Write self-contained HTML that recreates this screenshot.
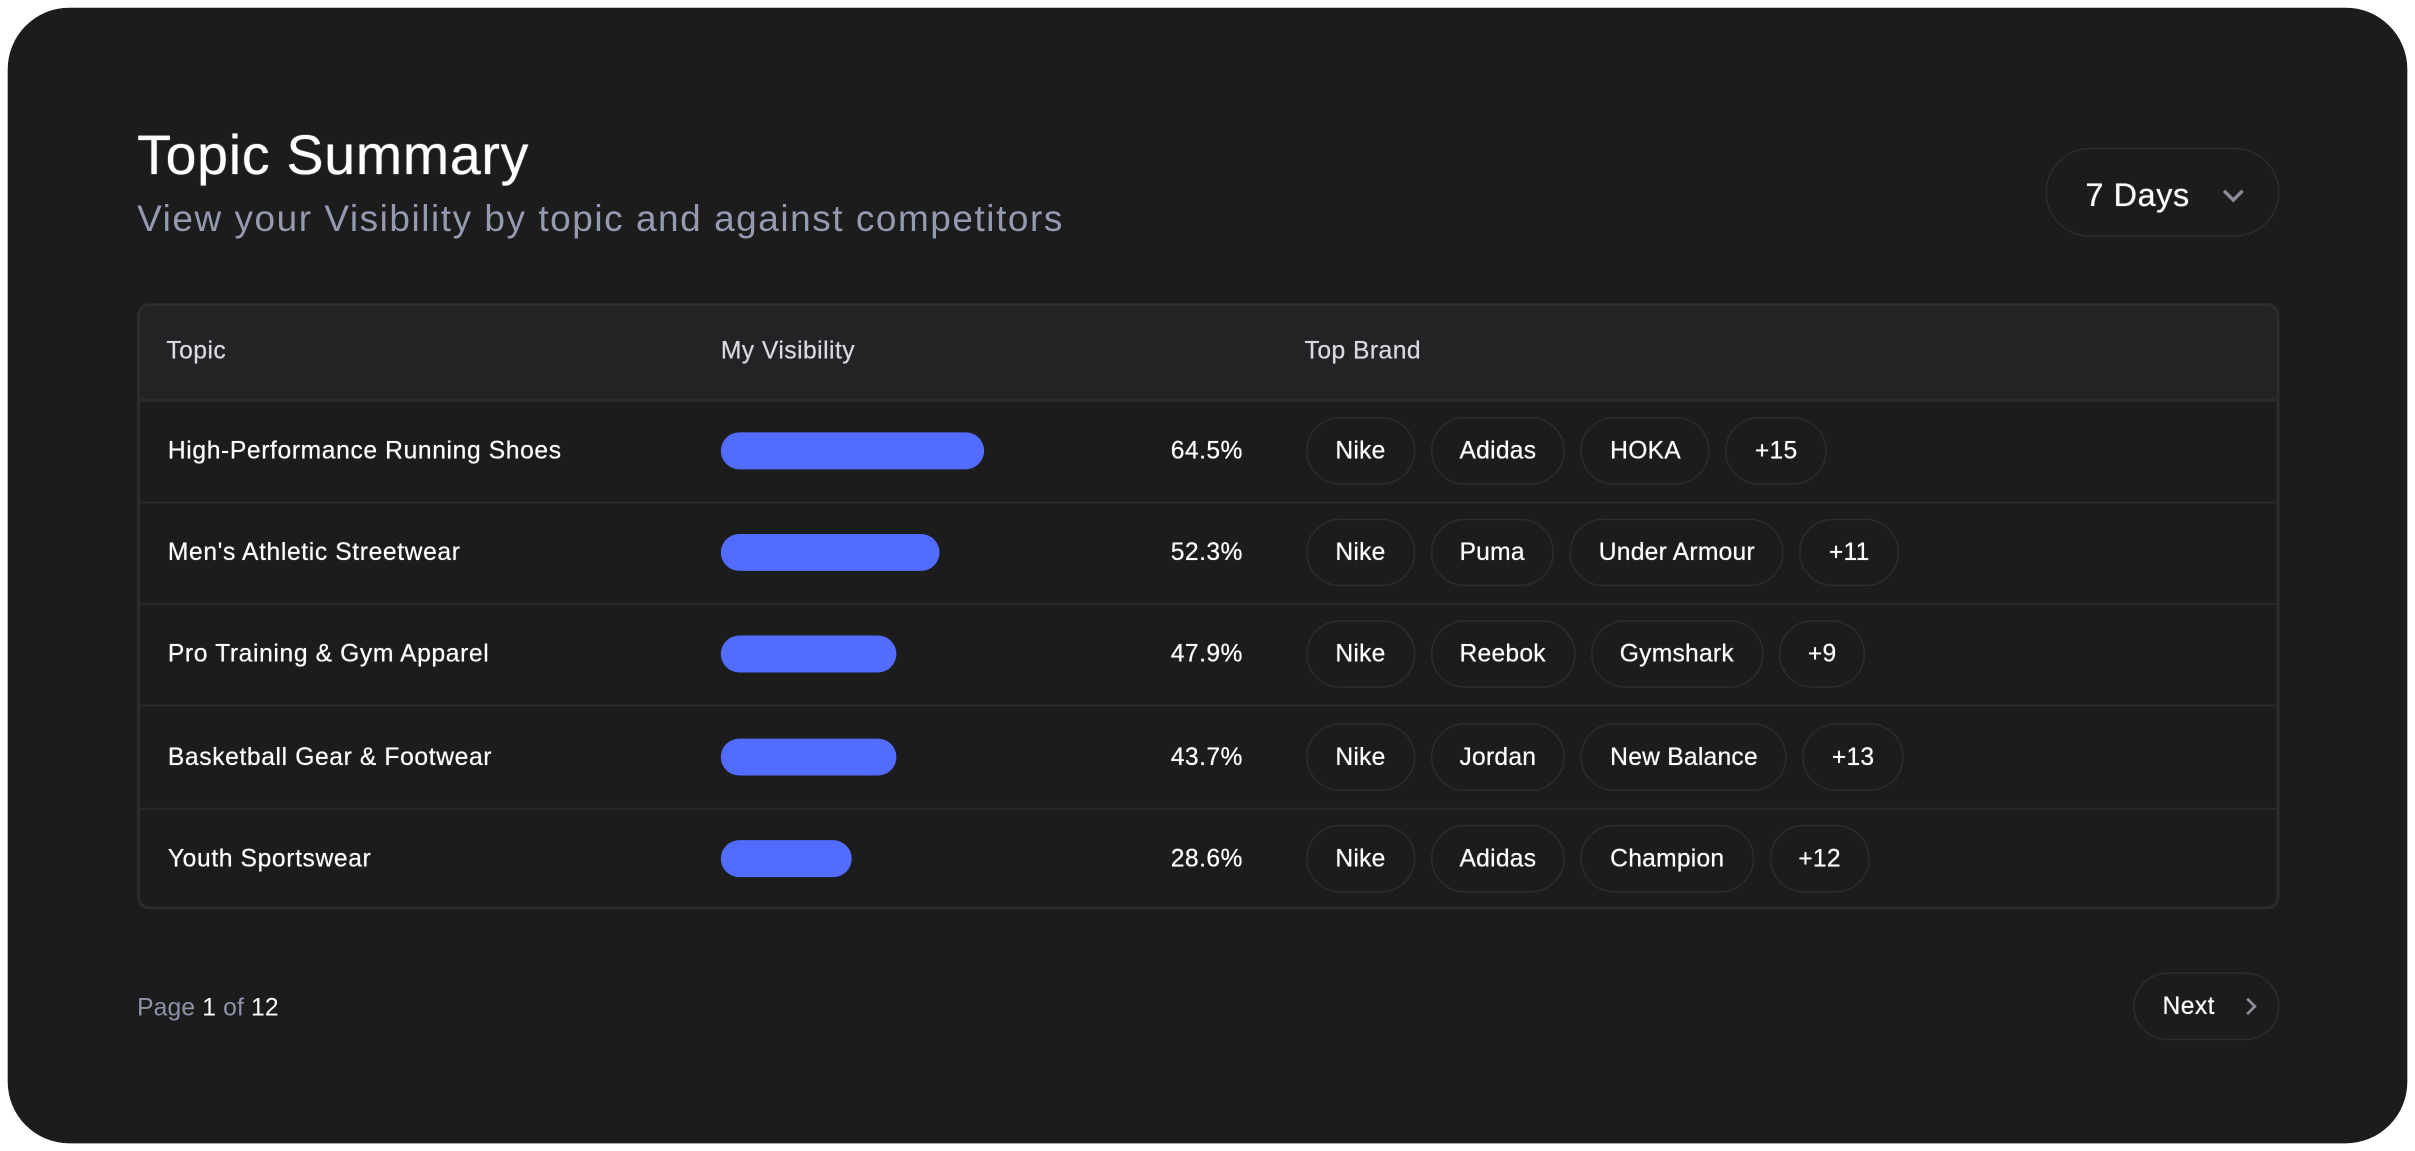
<!DOCTYPE html>
<html><head><meta charset="utf-8"><style>
html,body{margin:0;padding:0;background:#fff;width:2415px;height:1151px;overflow:hidden}
#w{position:absolute;left:0;top:0;width:1568px;height:748px;transform:scale(1.5402,1.5388);transform-origin:0 0;font-family:"Liberation Sans",sans-serif}
.card{position:absolute;left:5px;top:5px;width:1558px;height:738px;background:#1c1c1c;border-radius:40px}
.a{position:absolute;white-space:nowrap}
.t{left:89px;top:80px;font-size:36px;color:#fff;letter-spacing:0.5px;text-shadow:0 0 0.6px #fff}
.s{left:89px;top:129px;font-size:24px;color:#959ab0;letter-spacing:1px}
.dd{left:1328px;top:96px;width:152px;height:58px;border:1px solid #2c2c2e;border-radius:30px;box-sizing:border-box}
.tbl{left:89px;top:197px;width:1391px;height:394px;border:2px solid #2c2c2e;border-radius:8px;box-sizing:border-box;overflow:hidden}
.hd{position:absolute;left:0;top:0;right:0;height:60px;background:#232326;border-bottom:2px solid #2c2c2e}
.h{font-size:16px;color:#d8d9e3;top:21px;letter-spacing:0.3px;text-shadow:0 0 0.4px #d8d9e3}
.row{position:absolute;left:0;right:0;height:66px;border-bottom:1px solid #2a2a2a}
.tp{left:18px;top:25px;font-size:16px;color:#fff;letter-spacing:0.4px;text-shadow:0 0 0.4px #fff}
.bar{position:absolute;left:377px;top:21px;height:24px;border-radius:12px;background:#526cff}
.pc{left:628px;width:88px;text-align:right;top:25px;font-size:16px;color:#fff;letter-spacing:0.3px;text-shadow:0 0 0.4px #fff}
.chips{position:absolute;left:757px;top:11px;display:flex;gap:10px}
.chip{height:44px;padding:0 18px;border:1px solid #2c2c2e;border-radius:22px;box-sizing:border-box;color:#fff;font-size:16px;line-height:44px;letter-spacing:0.15px;text-shadow:0 0 0.4px #fff}
.pg{left:89px;top:647px;font-size:16px;color:#8e93a8;letter-spacing:0.1px}
.pg b{color:#fff;font-weight:normal}
.nx{left:1385px;top:632px;width:95px;height:44px;border:1px solid #2c2c2e;border-radius:22px;box-sizing:border-box}
</style></head><body><div id="w">
<div class="card"></div>
<div class="a t">Topic Summary</div>
<div class="a s">View your Visibility by topic and against competitors</div>
<div class="a dd"><span class="a" style="left:25px;top:19px;font-size:21px;color:#fff;letter-spacing:0.4px;text-shadow:0 0 0.5px #fff">7 Days</span>
<svg class="a" style="left:113px;top:24px" width="16" height="12"><path d="M2 3 L8 9 L14 3" stroke="#8a8d99" stroke-width="2.2" fill="none"/></svg></div>
<div class="a tbl">
<div class="hd"><span class="a h" style="left:17px">Topic</span><span class="a h" style="left:377px">My Visibility</span><span class="a h" style="left:756px">Top Brand</span></div>
<div class="row" style="top:61px"><span class="a tp">High-Performance Running Shoes</span><div class="bar" style="width:171px"></div><span class="a pc">64.5%</span><div class="chips"><div class="chip">Nike</div><div class="chip">Adidas</div><div class="chip">HOKA</div><div class="chip">+15</div></div></div>
<div class="row" style="top:127px"><span class="a tp">Men's Athletic Streetwear</span><div class="bar" style="width:142px"></div><span class="a pc">52.3%</span><div class="chips"><div class="chip">Nike</div><div class="chip">Puma</div><div class="chip">Under Armour</div><div class="chip">+11</div></div></div>
<div class="row" style="top:193px"><span class="a tp">Pro Training &amp; Gym Apparel</span><div class="bar" style="width:114px"></div><span class="a pc">47.9%</span><div class="chips"><div class="chip">Nike</div><div class="chip">Reebok</div><div class="chip">Gymshark</div><div class="chip">+9</div></div></div>
<div class="row" style="top:260px"><span class="a tp">Basketball Gear &amp; Footwear</span><div class="bar" style="width:114px"></div><span class="a pc">43.7%</span><div class="chips"><div class="chip">Nike</div><div class="chip">Jordan</div><div class="chip">New Balance</div><div class="chip">+13</div></div></div>
<div class="row" style="top:326px;border-bottom:none"><span class="a tp">Youth Sportswear</span><div class="bar" style="width:85px"></div><span class="a pc">28.6%</span><div class="chips"><div class="chip">Nike</div><div class="chip">Adidas</div><div class="chip">Champion</div><div class="chip">+12</div></div></div>
</div>
<div class="a pg">Page <b>1</b> of <b>12</b></div>
<div class="a nx"><span class="a" style="left:18px;top:13px;font-size:16px;color:#fff;letter-spacing:0.3px;text-shadow:0 0 0.4px #fff">Next</span>
<svg class="a" style="left:70px;top:14px" width="10" height="14"><path d="M3 2 L8 7 L3 12" stroke="#8a8d99" stroke-width="1.8" fill="none"/></svg></div>
</div></body></html>
